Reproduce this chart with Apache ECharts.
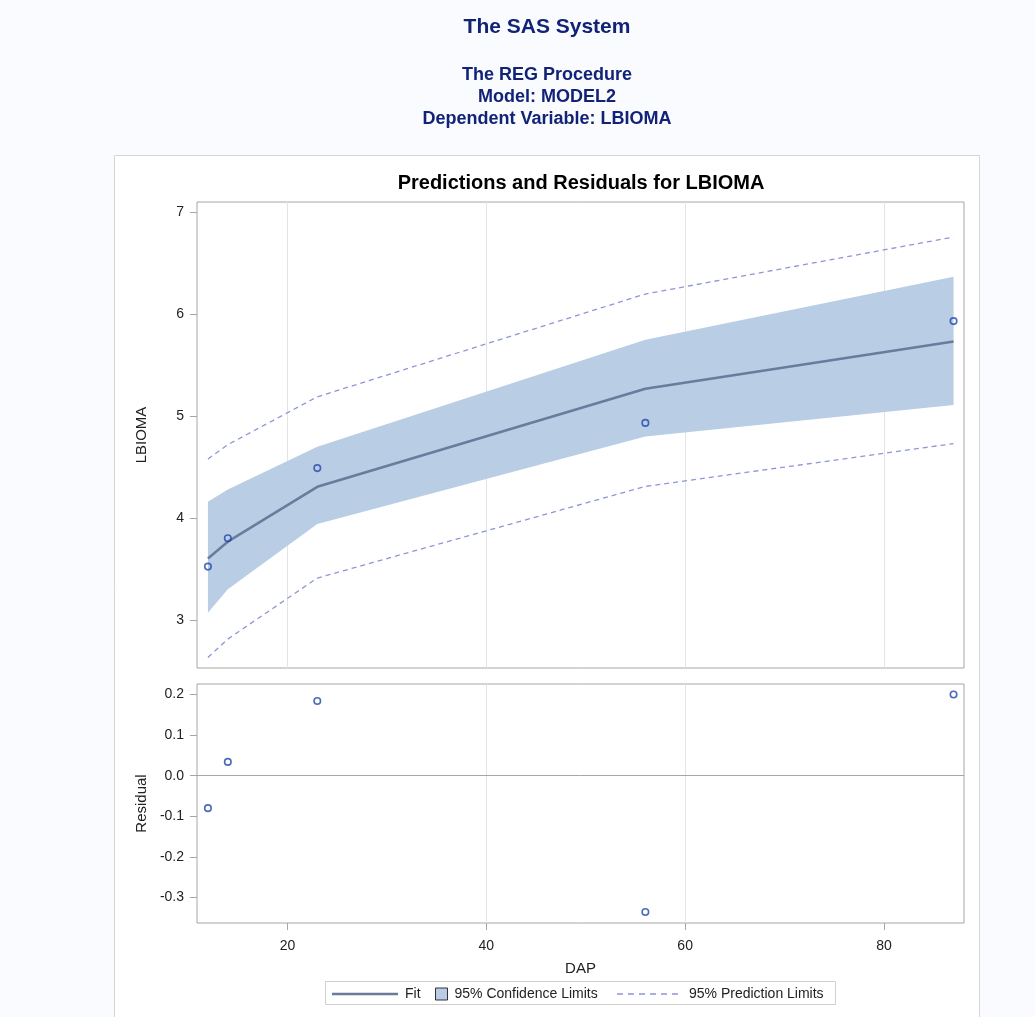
<!DOCTYPE html>
<html>
<head>
<meta charset="utf-8">
<script src="https://cdn.jsdelivr.net/npm/echarts@6/dist/echarts.min.js"></script>
<style>
  html, body { margin: 0; padding: 0; background: #FAFBFE; }
  #chart { width: 1035px; height: 1017px; }
</style>
</head>
<body>
<div id="chart"></div>
<script>
// Observations and fitted model output
const DAP = [12, 14, 23, 56, 87];
const LBIOMA = [3.522, 3.801, 4.490, 4.934, 5.934];
const FIT = [3.602, 3.767, 4.306, 5.270, 5.734];
const RESIDUAL = [-0.080, 0.034, 0.184, -0.336, 0.200];
const CL_LOWER = [3.07, 3.30, 3.94, 4.80, 5.11];
const CL_UPPER = [4.16, 4.28, 4.70, 5.75, 6.37];
const PL_LOWER = [2.63, 2.81, 3.41, 4.31, 4.73];
const PL_UPPER = [4.58, 4.72, 5.19, 6.20, 6.76];

// Tick labels
const X_TICKS = [20, 40, 60, 80];
const Y_TICKS = [3, 4, 5, 6, 7];
const RESID_TICKS = [-0.3, -0.2, -0.1, 0.0, 0.1, 0.2];

const FONT = "'Liberation Sans', Arial, Helvetica, sans-serif";
const NAVY = '#112277';
const FRAME = '#A6A6A6';
const GRIDLINE = '#E4E4E4';
const BAND = '#B9CDE5';
const FITLINE = '#6A7B9C';
const PRED = '#8E95D8';
const MARKER = '#2046AA';
const INK = '#222222';

// Dashed legend sample: six short dashes
const DASH_ICON = 'path://M0,0h6v1.3h-6zM11,0h6v1.3h-6zM22,0h6v1.3h-6zM33,0h6v1.3h-6zM44,0h6v1.3h-6zM55,0h6v1.3h-6z';

const zip = (xs, ys) => xs.map((x, i) => [x, ys[i]]);

const chart = echarts.init(document.getElementById('chart'), null, { renderer: 'canvas' });

const xBase = {
  type: 'value',
  min: 10.9,
  max: 88.05,
  axisLine: { show: false, onZero: false },
  splitLine: { show: true, showMinLine: false, showMaxLine: false, lineStyle: { color: GRIDLINE, width: 1 } }
};

const legendBase = {
  orient: 'horizontal', padding: 0, itemGap: 0, selectedMode: false, top: 987,
  textStyle: { fontSize: 14, color: INK, fontFamily: FONT }
};

const option = {
  backgroundColor: '#FAFBFE',
  animation: false,
  textStyle: { fontFamily: FONT },
  graphic: [
    { type: 'rect', z: -5, shape: { x: 114.5, y: 155.5, width: 865, height: 880 },
      style: { fill: '#FFFFFF', stroke: '#D6D6D6', lineWidth: 1 } },
    { type: 'text', x: 547, y: 27, style: { text: 'The SAS System', align: 'center', verticalAlign: 'middle',
      font: "bold 21px " + FONT, fill: NAVY } },
    { type: 'text', x: 547, y: 75, style: { text: 'The REG Procedure', align: 'center', verticalAlign: 'middle',
      font: "bold 18px " + FONT, fill: NAVY } },
    { type: 'text', x: 547, y: 97, style: { text: 'Model: MODEL2', align: 'center', verticalAlign: 'middle',
      font: "bold 18px " + FONT, fill: NAVY } },
    { type: 'text', x: 547, y: 119, style: { text: 'Dependent Variable: LBIOMA', align: 'center', verticalAlign: 'middle',
      font: "bold 18px " + FONT, fill: NAVY } },
    { type: 'text', x: 581, y: 183, style: { text: 'Predictions and Residuals for LBIOMA', align: 'center', verticalAlign: 'middle',
      font: "bold 20px " + FONT, fill: '#000000' } },
    { type: 'rect', z: -1, shape: { x: 325.5, y: 981.5, width: 510, height: 23 },
      style: { fill: '#FFFFFF', stroke: '#D0D0D0', lineWidth: 1 } }
  ],
  grid: [
    { left: 197, top: 202, width: 767, height: 466, show: true, backgroundColor: '#FFFFFF',
      borderColor: FRAME, borderWidth: 1 },
    { left: 197, top: 684, width: 767, height: 239, show: true, backgroundColor: '#FFFFFF',
      borderColor: FRAME, borderWidth: 1 }
  ],
  xAxis: [
    Object.assign({}, xBase, { gridIndex: 0, axisTick: { show: false }, axisLabel: { show: false } }),
    Object.assign({}, xBase, {
      gridIndex: 1,
      name: 'DAP', nameLocation: 'middle', nameGap: 38,
      nameTextStyle: { fontSize: 15, color: INK, fontFamily: FONT },
      axisTick: { show: true, length: 7, customValues: X_TICKS, lineStyle: { color: FRAME } },
      axisLabel: { show: true, margin: 16, fontSize: 14, color: INK, customValues: X_TICKS }
    })
  ],
  yAxis: [
    {
      gridIndex: 0, type: 'value', min: 2.526, max: 7.104,
      name: 'LBIOMA', nameLocation: 'middle', nameGap: 48, nameRotate: 90,
      nameTextStyle: { fontSize: 15, color: INK, fontFamily: FONT },
      axisLine: { show: false },
      axisTick: { show: true, length: 7, customValues: Y_TICKS, lineStyle: { color: FRAME } },
      axisLabel: { margin: 13, fontSize: 14, color: INK, customValues: Y_TICKS },
      splitLine: { show: false }
    },
    {
      gridIndex: 1, type: 'value', min: -0.363, max: 0.226,
      name: 'Residual', nameLocation: 'middle', nameGap: 48, nameRotate: 90,
      nameTextStyle: { fontSize: 15, color: INK, fontFamily: FONT },
      axisLine: { show: false },
      axisTick: { show: true, length: 7, customValues: RESID_TICKS, lineStyle: { color: FRAME } },
      axisLabel: { margin: 13, fontSize: 14, color: INK, customValues: RESID_TICKS,
        formatter: v => v.toFixed(1) },
      splitLine: { show: false }
    }
  ],
  legend: [
    Object.assign({}, legendBase, {
      left: 332, itemWidth: 66, itemHeight: 2.5,
      textStyle: Object.assign({}, legendBase.textStyle, { padding: [0, 0, 0, 2] }),
      data: [{ name: 'Fit', icon: 'rect', itemStyle: { color: FITLINE, borderWidth: 0 } }]
    }),
    Object.assign({}, legendBase, {
      left: 435, itemWidth: 12, itemHeight: 12,
      textStyle: Object.assign({}, legendBase.textStyle, { padding: [0, 0, 0, 2] }),
      data: [{ name: '95% Confidence Limits', icon: 'rect',
        itemStyle: { color: BAND, borderColor: '#333', borderWidth: 1 } }]
    }),
    Object.assign({}, legendBase, {
      left: 617, itemWidth: 61, itemHeight: 1.3,
      textStyle: Object.assign({}, legendBase.textStyle, { padding: [0, 0, 0, 6] }),
      data: [{ name: '95% Prediction Limits', icon: DASH_ICON, itemStyle: { color: PRED, borderWidth: 0 } }]
    })
  ],
  series: [
    {
      name: '95% Confidence Limits', type: 'custom', xAxisIndex: 0, yAxisIndex: 0, z: 1, silent: true,
      itemStyle: { color: BAND },
      data: DAP.map((x, i) => [x, CL_LOWER[i], CL_UPPER[i]]),
      encode: { x: 0, y: [1, 2] },
      renderItem: (params, api) => {
        if (params.dataIndex !== 0) return null;
        const upper = DAP.map((x, i) => api.coord([x, CL_UPPER[i]]));
        const lower = DAP.map((x, i) => api.coord([x, CL_LOWER[i]])).reverse();
        return { type: 'polygon', shape: { points: upper.concat(lower) }, style: { fill: BAND } };
      }
    },
    {
      name: '95% Prediction Limits', type: 'line', xAxisIndex: 0, yAxisIndex: 0, z: 3,
      data: zip(DAP, PL_UPPER), symbol: 'none', silent: true,
      lineStyle: { color: PRED, width: 1.3, type: [5, 4] }, itemStyle: { color: PRED }
    },
    {
      name: '95% Prediction Limits', type: 'line', xAxisIndex: 0, yAxisIndex: 0, z: 3,
      data: zip(DAP, PL_LOWER), symbol: 'none', silent: true,
      lineStyle: { color: PRED, width: 1.3, type: [5, 4] }, itemStyle: { color: PRED }
    },
    {
      name: 'Fit', type: 'line', xAxisIndex: 0, yAxisIndex: 0, z: 4,
      data: zip(DAP, FIT), symbol: 'none', silent: true,
      lineStyle: { color: FITLINE, width: 2.5 }, itemStyle: { color: FITLINE }
    },
    {
      name: 'LBIOMA', type: 'scatter', xAxisIndex: 0, yAxisIndex: 0, z: 5,
      data: zip(DAP, LBIOMA), symbol: 'circle', symbolSize: 6.5, silent: true,
      itemStyle: { color: 'rgba(0,0,0,0)', borderColor: MARKER, borderWidth: 1.6 }
    },
    {
      name: 'Residual', type: 'scatter', xAxisIndex: 1, yAxisIndex: 1, z: 5,
      data: zip(DAP, RESIDUAL), symbol: 'circle', symbolSize: 6.5, silent: true,
      itemStyle: { color: 'rgba(0,0,0,0)', borderColor: MARKER, borderWidth: 1.6 },
      markLine: {
        silent: true, symbol: 'none', label: { show: false }, animation: false,
        lineStyle: { color: FRAME, width: 1, type: 'solid' },
        data: [{ yAxis: 0 }]
      }
    }
  ]
};

chart.setOption(option);
</script>
</body>
</html>
